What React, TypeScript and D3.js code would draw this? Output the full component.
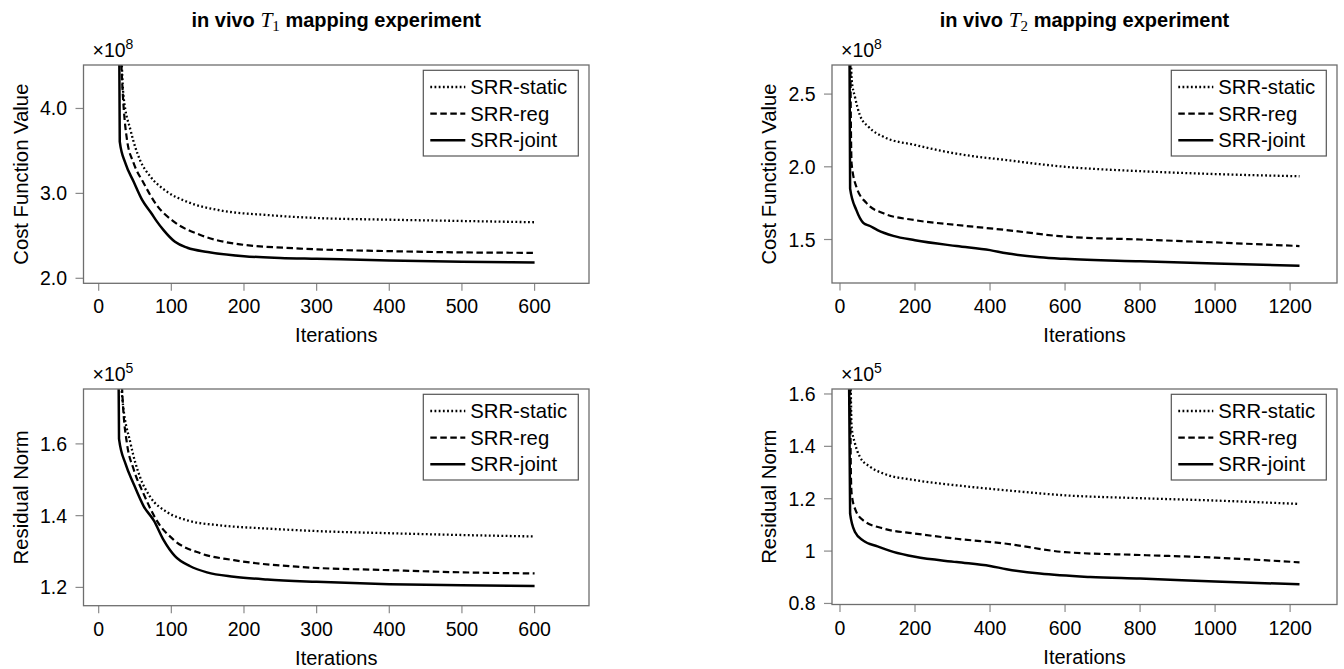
import * as d3 from "d3";

// iteration / value pairs (values in units of the ×10^n label)
const t1CostStatic = [[30, 5.0], [34, 4.16], [44, 3.74], [57, 3.39], [71, 3.2], [94, 3.02], [122, 2.9], [167, 2.8], [232, 2.745], [300, 2.71], [400, 2.69], [500, 2.675], [600, 2.66]];
const t1CostReg = [[29, 5.0], [33, 4.2], [39, 3.63], [48, 3.36], [62, 3.12], [80, 2.86], [103, 2.67], [140, 2.51], [186, 2.41], [277, 2.35], [400, 2.32], [500, 2.305], [600, 2.3]];
const t1CostJoint = [[28, 5.2], [29, 3.61], [37, 3.35], [48, 3.14], [60, 2.92], [73, 2.76], [80, 2.67], [89, 2.57], [105, 2.43], [122, 2.36], [150, 2.31], [200, 2.26], [250, 2.24], [300, 2.23], [400, 2.21], [500, 2.195], [600, 2.185]];

const t2CostStatic = [[28, 3.0], [31, 2.6], [40, 2.48], [53, 2.355], [76, 2.275], [116, 2.206], [200, 2.15], [311, 2.09], [444, 2.046], [600, 2.0], [800, 1.97], [1000, 1.95], [1225, 1.935]];
const t2CostReg = [[27, 3.0], [29, 2.3], [31, 2.02], [44, 1.86], [71, 1.75], [116, 1.68], [200, 1.633], [311, 1.6], [444, 1.565], [600, 1.52], [800, 1.5], [1000, 1.48], [1225, 1.455]];
const t2CostJoint = [[25, 3.0], [27, 1.85], [44, 1.7], [62, 1.615], [80, 1.593], [100, 1.565], [142, 1.525], [200, 1.495], [311, 1.455], [400, 1.427], [444, 1.405], [533, 1.378], [600, 1.367], [800, 1.35], [1000, 1.335], [1225, 1.32]];

const t1ResStatic = [[30, 1.9], [32, 1.739], [44, 1.6], [57, 1.507], [71, 1.452], [94, 1.41], [122, 1.387], [167, 1.373], [232, 1.364], [300, 1.357], [400, 1.351], [500, 1.346], [600, 1.342]];
const t1ResReg = [[29, 1.9], [34, 1.69], [39, 1.6], [48, 1.53], [62, 1.46], [80, 1.386], [103, 1.333], [140, 1.295], [186, 1.276], [277, 1.257], [400, 1.248], [500, 1.242], [600, 1.239]];
const t1ResJoint = [[27, 1.9], [28, 1.614], [37, 1.544], [48, 1.489], [62, 1.426], [76, 1.386], [89, 1.333], [105, 1.287], [126, 1.259], [149, 1.242], [186, 1.23], [232, 1.222], [300, 1.2155], [400, 1.209], [500, 1.206], [600, 1.204]];

const t2ResStatic = [[28, 1.7], [31, 1.475], [40, 1.411], [53, 1.36], [80, 1.322], [116, 1.296], [200, 1.271], [311, 1.251], [444, 1.232], [600, 1.213], [800, 1.202], [1000, 1.193], [1225, 1.18]];
const t2ResReg = [[27, 1.7], [29, 1.3], [31, 1.22], [40, 1.162], [62, 1.117], [116, 1.086], [200, 1.067], [311, 1.047], [444, 1.028], [600, 0.996], [800, 0.985], [1000, 0.975], [1225, 0.957]];
const t2ResJoint = [[24, 1.7], [27, 1.143], [40, 1.073], [62, 1.04], [100, 1.018], [142, 0.997], [200, 0.978], [311, 0.958], [400, 0.943], [444, 0.931], [533, 0.914], [667, 0.901], [800, 0.895], [1000, 0.884], [1225, 0.873]];

const seriesNames = ["SRR-static", "SRR-reg", "SRR-joint"];

const xTicksT1 = [0, 100, 200, 300, 400, 500, 600];
const xTicksT2 = [0, 200, 400, 600, 800, 1000, 1200];
const yTicksCostT1 = [2, 3, 4];
const yLabelsCostT1 = ["2.0", "3.0", "4.0"];
const yTicksCostT2 = [1.5, 2, 2.5];
const yLabelsCostT2 = ["1.5", "2.0", "2.5"];
const yTicksResT1 = [1.2, 1.4, 1.6];
const yLabelsResT1 = ["1.2", "1.4", "1.6"];
const yTicksResT2 = [0.8, 1, 1.2, 1.4, 1.6];
const yLabelsResT2 = ["0.8", "1", "1.2", "1.4", "1.6"];

const FONT = "'Liberation Sans', Arial, Helvetica, sans-serif";
const SERIF = "'Liberation Serif', 'Times New Roman', serif";
const styles = [
  { dash: "1.8 2.4", width: 2.3 },
  { dash: "6.5 3.5", width: 2.2 },
  { dash: null, width: 2.5 },
];

function Panel({ box, xDomain, yDomain, xTicks, yTicks, yLabels, series, yTitle, exp, title, sub, id }) {
  const x = d3.scaleLinear().domain(xDomain).range([box.x0, box.x1]);
  const y = d3.scaleLinear().domain(yDomain).range([box.y1, box.y0]);
  const line = d3.line().x(d => x(d[0])).y(d => y(d[1])).curve(d3.curveMonotoneX);
  const midX = (box.x0 + box.x1) / 2;
  const midY = (box.y0 + box.y1) / 2;
  const lx = box.x1 - 165.7;
  const ly = box.y0 + 5.3;
  return (
    <g>
      <defs>
        <clipPath id={id}>
          <rect x={box.x0} y={box.y0} width={box.x1 - box.x0} height={box.y1 - box.y0} />
        </clipPath>
      </defs>
      {title && (
        <text x={midX} y={27} textAnchor="middle" fontFamily={FONT} fontWeight="bold" fontSize={20}>
          in vivo{" "}
          <tspan fontFamily={SERIF} fontStyle="italic" fontWeight="normal" fontSize={21.5}>T</tspan>
          <tspan fontFamily={SERIF} fontWeight="normal" fontSize={15} dy={4}>{sub}</tspan>
          <tspan dy={-4}> mapping experiment</tspan>
        </text>
      )}
      <text x={box.x0 + 9} y={box.y0 - 8.5} fontFamily={FONT} fontSize={19.5}>
        ×10<tspan fontSize={14} dy={-8}>{exp}</tspan>
      </text>
      <text transform={`translate(${box.x0 - 56},${midY}) rotate(-90)`} textAnchor="middle" fontFamily={FONT} fontSize={20.3}>
        {yTitle}
      </text>
      <text x={midX} y={box.y1 + 59} textAnchor="middle" fontFamily={FONT} fontSize={20}>Iterations</text>
      {xTicks.map(t => (
        <g key={"x" + t}>
          <line x1={x(t)} x2={x(t)} y1={box.y1} y2={box.y1 + 7.5} stroke="#8a8a8a" strokeWidth={1.2} />
          <text x={x(t)} y={box.y1 + 30} textAnchor="middle" fontFamily={FONT} fontSize={19.5}>{t}</text>
        </g>
      ))}
      {yTicks.map((t, i) => (
        <g key={"y" + t}>
          <line x1={box.x0 - 8} x2={box.x0} y1={y(t)} y2={y(t)} stroke="#8a8a8a" strokeWidth={1.2} />
          <text x={box.x0 - 16.5} y={y(t) + 7} textAnchor="end" fontFamily={FONT} fontSize={19.5}>{yLabels[i]}</text>
        </g>
      ))}
      <g clipPath={`url(#${id})`}>
        {series.map((s, i) => (
          <path key={i} d={line(s)} fill="none" stroke="#000" strokeWidth={styles[i].width}
            strokeDasharray={styles[i].dash || undefined} strokeLinejoin="round" />
        ))}
      </g>
      <rect x={box.x0} y={box.y0} width={box.x1 - box.x0} height={box.y1 - box.y0} fill="none" stroke="#6e6e6e" strokeWidth={1.3} />
      <rect x={lx} y={ly} width={155} height={85.7} fill="#fff" stroke="#555" strokeWidth={1.2} />
      {seriesNames.map((n, i) => (
        <g key={n}>
          <line x1={lx + 7} x2={lx + 42} y1={ly + 16.7 + i * 26.6} y2={ly + 16.7 + i * 26.6} stroke="#000"
            strokeWidth={styles[i].width} strokeDasharray={styles[i].dash || undefined} />
          <text x={lx + 47} y={ly + 23.8 + i * 26.6} fontFamily={FONT} fontSize={20.3}>{n}</text>
        </g>
      ))}
    </g>
  );
}

export default function App() {
  return (
    <svg width={1344} height={669} style={{ position: "absolute", left: 0, top: 0, background: "#fff" }}>
      <Panel id="c1" box={{ x0: 83.5, x1: 589, y0: 65, y1: 283.3 }} xDomain={[-20.9, 674.9]} yDomain={[1.941, 4.512]}
        xTicks={xTicksT1} yTicks={yTicksCostT1} yLabels={yLabelsCostT1} series={[t1CostStatic, t1CostReg, t1CostJoint]}
        yTitle="Cost Function Value" exp="8" title sub="1" />
      <Panel id="c2" box={{ x0: 832, x1: 1337, y0: 65, y1: 283 }} xDomain={[-21.3, 1325]} yDomain={[1.201, 2.7]}
        xTicks={xTicksT2} yTicks={yTicksCostT2} yLabels={yLabelsCostT2} series={[t2CostStatic, t2CostReg, t2CostJoint]}
        yTitle="Cost Function Value" exp="8" title sub="2" />
      <Panel id="c3" box={{ x0: 83.5, x1: 589, y0: 389, y1: 605.7 }} xDomain={[-20.9, 674.9]} yDomain={[1.149, 1.753]}
        xTicks={xTicksT1} yTicks={yTicksResT1} yLabels={yLabelsResT1} series={[t1ResStatic, t1ResReg, t1ResJoint]}
        yTitle="Residual Norm" exp="5" title={false} sub="" />
      <Panel id="c4" box={{ x0: 832, x1: 1337, y0: 389, y1: 604.5 }} xDomain={[-21.3, 1325]} yDomain={[0.796, 1.619]}
        xTicks={xTicksT2} yTicks={yTicksResT2} yLabels={yLabelsResT2} series={[t2ResStatic, t2ResReg, t2ResJoint]}
        yTitle="Residual Norm" exp="5" title={false} sub="" />
    </svg>
  );
}
